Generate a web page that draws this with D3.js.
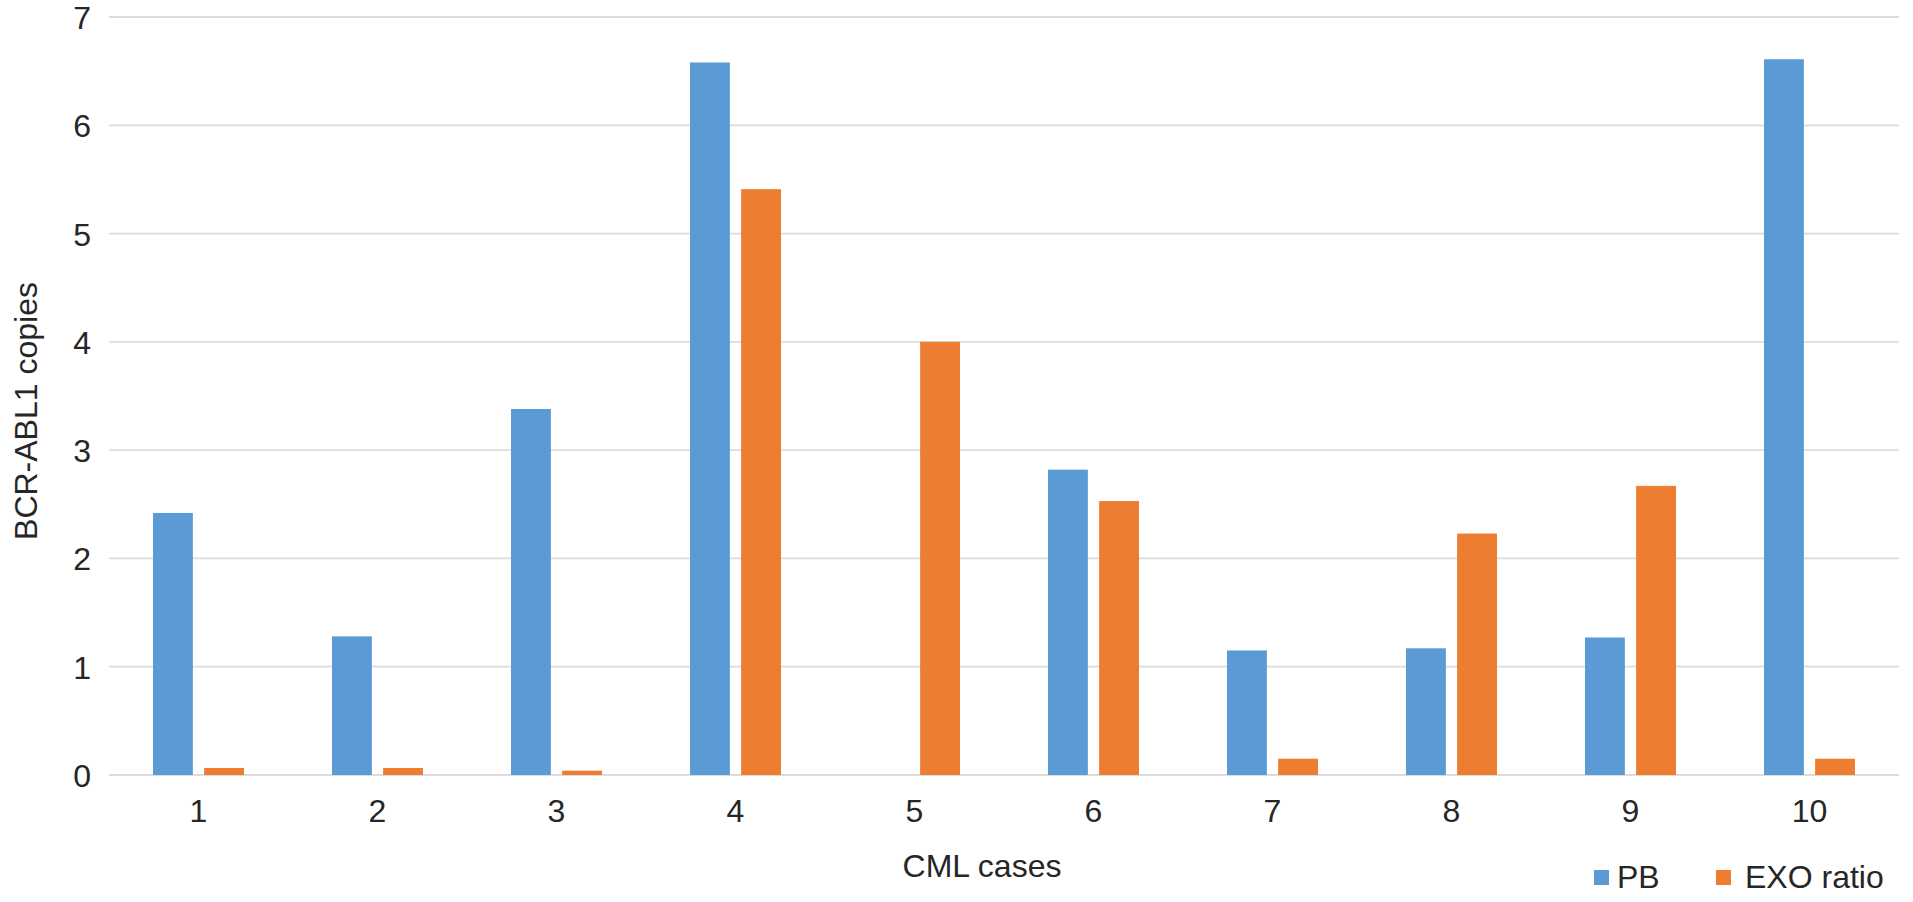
<!DOCTYPE html>
<html>
<head>
<meta charset="utf-8">
<script src="https://cdn.jsdelivr.net/npm/d3@7"></script>
<style>
  html, body { margin: 0; padding: 0; background: #ffffff; }
  svg { display: block; }
</style>
</head>
<body>
<svg id="chart"></svg>
<script>
// ─── Data ─────────────────────────────────────────────
const categories = ["1", "2", "3", "4", "5", "6", "7", "8", "9", "10"];
const pbValues   = [2.42, 1.28, 3.38, 6.58, 0, 2.82, 1.15, 1.17, 1.27, 6.61];
const exoValues  = [0.065, 0.065, 0.04, 5.41, 4.0, 2.53, 0.15, 2.23, 2.67, 0.15];
const seriesNames = ["PB", "EXO ratio"];
const yTicks = [0, 1, 2, 3, 4, 5, 6, 7];

const COLORS = { "PB": "#5b9bd5", "EXO ratio": "#ed7d31" };
const FONT = "'Liberation Sans', Arial, Helvetica, sans-serif";
const TEXT = "#262626";

const width = 1913, height = 902;
const plot = { left: 109, right: 1899, top: 17, bottom: 775 };

const svg = d3.select("#chart").attr("width", width).attr("height", height);

const rows = categories.map((c, i) => ({
  cat: c,
  values: [
    { key: seriesNames[0], value: pbValues[i] },
    { key: seriesNames[1], value: exoValues[i] },
  ],
}));

const x0 = d3.scaleBand().domain(categories).range([plot.left, plot.right]).padding(0);
const groupWidth = 91;
const x1 = d3.scaleBand().domain(seriesNames).range([0, groupWidth]).paddingInner(0.22);
const y = d3.scaleLinear().domain([0, 7]).range([plot.bottom, plot.top]);

// Gridlines
svg.append("g").attr("class", "grid")
  .selectAll("line")
  .data(yTicks)
  .join("line")
  .attr("x1", plot.left).attr("x2", plot.right)
  .attr("y1", d => y(d)).attr("y2", d => y(d))
  .attr("stroke", "#dcdcdc")
  .attr("stroke-width", 1.8);

// Y axis labels
const yAxis = d3.axisLeft(y).tickValues(yTicks).tickSize(0).tickPadding(0).tickFormat(d3.format("d"));
svg.append("g")
  .attr("transform", `translate(91,0)`)
  .call(yAxis)
  .call(g => g.select(".domain").remove())
  .selectAll("text")
  .attr("font-family", FONT).attr("font-size", 32).attr("fill", TEXT)
  .attr("dy", "0.36em");

// X axis labels
const xAxis = d3.axisBottom(x0).tickSize(0).tickPadding(0);
svg.append("g")
  .attr("transform", `translate(0,${plot.bottom})`)
  .call(xAxis)
  .call(g => g.select(".domain").remove())
  .selectAll("text")
  .attr("font-family", FONT).attr("font-size", 32).attr("fill", TEXT)
  .attr("dy", null)
  .attr("y", 47);

// Bars
const groups = svg.append("g").attr("class", "bars")
  .selectAll("g")
  .data(rows)
  .join("g")
  .attr("transform", d => `translate(${x0(d.cat) + x0.bandwidth() / 2 - groupWidth / 2},0)`);

groups.selectAll("rect")
  .data(d => d.values)
  .join("rect")
  .attr("x", d => x1(d.key))
  .attr("width", x1.bandwidth())
  .attr("y", d => y(d.value))
  .attr("height", d => y(0) - y(d.value))
  .attr("fill", d => COLORS[d.key]);

// Axis titles
svg.append("text")
  .attr("transform", "translate(37,411) rotate(-90)")
  .attr("text-anchor", "middle")
  .attr("font-family", FONT).attr("font-size", 32).attr("fill", TEXT)
  .text("BCR-ABL1 copies");

svg.append("text")
  .attr("x", 982).attr("y", 877)
  .attr("text-anchor", "middle")
  .attr("font-family", FONT).attr("font-size", 32).attr("fill", TEXT)
  .text("CML cases");

// Legend
const legendPos = [
  { sx: 1594, tx: 1617 },
  { sx: 1716, tx: 1745 },
];
const legend = svg.append("g").attr("class", "legend")
  .selectAll("g")
  .data(seriesNames)
  .join("g");

legend.append("rect")
  .attr("x", (d, i) => legendPos[i].sx)
  .attr("y", 870)
  .attr("width", 15).attr("height", 15)
  .attr("fill", d => COLORS[d]);

legend.append("text")
  .attr("x", (d, i) => legendPos[i].tx)
  .attr("y", 888)
  .attr("font-family", FONT).attr("font-size", 32).attr("fill", TEXT)
  .text(d => d);
</script>
</body>
</html>
